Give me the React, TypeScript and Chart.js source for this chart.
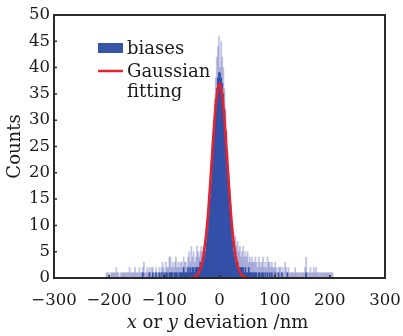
import React, { useEffect, useRef } from "react";
import { Chart, registerables } from "chart.js";

Chart.register(...registerables);

// Histogram bins: 2 nm wide, first bin starts at -210 nm
const BIN_START = -210;
const BIN_WIDTH = 2;

// light (individual fine-bin) counts, per 2 nm bin from -210 to 210
const spikeCounts = [
  0, 0, 1, 1, 1, 0, 1, 1, 1, 1,
  1, 2, 1, 1, 0, 1, 1, 1, 1, 1,
  1, 1, 1, 2, 1, 1, 1, 1, 2, 1,
  1, 1, 2, 1, 1, 2, 3, 1, 1, 2,
  1, 2, 1, 2, 2, 1, 1, 2, 1, 1,
  2, 1, 2, 3, 2, 1, 3, 2, 2, 4,
  4, 2, 3, 2, 3, 4, 2, 3, 2, 3,
  3, 2, 4, 3, 3, 2, 4, 5, 3, 6,
  4, 5, 3, 4, 6, 5, 4, 5, 6, 5,
  6, 7, 8, 10, 13, 16, 18, 22, 26, 30,
  34, 38, 42, 44, 46, 40, 45, 42, 40, 36,
  32, 28, 24, 20, 17, 14, 10, 8, 7, 8,
  6, 7, 5, 6, 4, 5, 6, 4, 5, 4,
  5, 3, 4, 3, 4, 3, 3, 4, 3, 2,
  4, 3, 2, 3, 4, 2, 3, 2, 4, 3,
  3, 2, 3, 2, 2, 3, 2, 1, 2, 2,
  2, 1, 2, 1, 3, 2, 1, 2, 1, 1,
  1, 1, 1, 2, 1, 1, 1, 1, 1, 1,
  1, 1, 2, 4, 1, 1, 1, 2, 1, 1,
  2, 1, 2, 1, 1, 1, 1, 1, 1, 1,
  1, 1, 1, 1, 1, 1, 1, 1, 0, 0,
];

// dense (solid) counts, same bins
const coreCounts = [
  0, 0, 0, 0, 0, 0, 0, 0, 0, 0,
  0, 0, 0, 0, 0, 0, 0, 0, 0, 0,
  0, 0, 0, 0, 0, 0, 0, 0, 0, 0,
  0, 0, 0, 0, 0, 1, 0, 0, 0, 0,
  0, 1, 0, 0, 1, 0, 0, 1, 0, 0,
  1, 0, 1, 0, 1, 0, 1, 1, 0, 1,
  1, 1, 1, 0, 1, 1, 1, 0, 1, 1,
  1, 1, 2, 1, 1, 1, 2, 1, 2, 1,
  2, 2, 1, 2, 2, 2, 2, 3, 2, 3,
  3, 4, 5, 7, 9, 12, 15, 18, 22, 26,
  30, 33, 36, 38, 39, 39, 38, 37, 35, 32,
  28, 24, 20, 16, 13, 10, 7, 5, 4, 3,
  3, 3, 2, 2, 2, 2, 2, 1, 2, 1,
  1, 2, 1, 1, 1, 1, 1, 1, 1, 0,
  1, 1, 0, 1, 1, 0, 1, 0, 1, 0,
  1, 0, 1, 0, 0, 1, 0, 0, 1, 0,
  0, 1, 0, 0, 0, 0, 1, 0, 0, 0,
  0, 0, 0, 0, 0, 0, 0, 0, 0, 0,
  0, 0, 0, 1, 0, 0, 0, 0, 0, 0,
  0, 0, 0, 0, 0, 0, 0, 0, 0, 0,
  0, 0, 0, 0, 0, 0, 0, 0, 0, 0,
];

// Gaussian fitting curve
const fitX = [-52, -48, -44, -40, -36, -32, -28, -24, -20, -16, -12, -8, -4, 0, 4, 8, 12, 16, 20, 24, 28, 32, 36, 40, 44, 48, 52];
const fitY = [0.04, 0.1, 0.27, 0.62, 1.36, 2.7, 5.0, 8.5, 13.3, 19.3, 25.6, 31.4, 35.5, 37, 35.5, 31.4, 25.6, 19.3, 13.3, 8.5, 5.0, 2.7, 1.36, 0.62, 0.27, 0.1, 0.04];

const xTicks = [-300, -200, -100, 0, 100, 200, 300];
const yTicks = [0, 5, 10, 15, 20, 25, 30, 35, 40, 45, 50];

const FONT = '"DejaVu Serif", "Liberation Serif", serif';
const BLUE = "#3554a5";
const CORE = "rgba(45, 75, 165, 0.9)";
const LAVENDER = "rgba(80, 88, 180, 0.36)";
const RED = "#e8212b";
const INK = "#1a1a1a";

const binCenters = spikeCounts.map((_, i) => BIN_START + BIN_WIDTH * i + BIN_WIDTH / 2);

const decorPlugin = {
  id: "decor",
  afterDatasetsDraw(chart: any) {
    const { ctx, chartArea } = chart;
    const { left, right, top, bottom } = chartArea;
    const xs = chart.scales.x;
    const ys = chart.scales.y;
    ctx.save();
    // inward ticks
    ctx.strokeStyle = "#2a2a2a";
    ctx.lineWidth = 1.5;
    ctx.beginPath();
    xTicks.forEach((v) => {
      const px = xs.getPixelForValue(v);
      ctx.moveTo(px, bottom);
      ctx.lineTo(px, bottom - 3);
    });
    yTicks.forEach((v) => {
      const py = ys.getPixelForValue(v);
      ctx.moveTo(left, py);
      ctx.lineTo(left + 3, py);
    });
    ctx.stroke();
    // frame
    ctx.lineWidth = 2;
    ctx.strokeStyle = "#2a2a2a";
    ctx.strokeRect(left, top, right - left, bottom - top);

    // legend
    const lx = left + 44;
    ctx.fillStyle = BLUE;
    ctx.fillRect(lx, top + 28, 25, 10);
    ctx.strokeStyle = RED;
    ctx.lineWidth = 2.5;
    ctx.beginPath();
    ctx.moveTo(lx, top + 56);
    ctx.lineTo(lx + 25, top + 56);
    ctx.stroke();
    ctx.fillStyle = INK;
    ctx.font = `18px ${FONT}`;
    ctx.textAlign = "left";
    ctx.textBaseline = "alphabetic";
    ctx.fillText("biases", lx + 29, top + 39);
    ctx.fillText("Gaussian", lx + 29, top + 62);
    ctx.fillText("fitting", lx + 29, top + 82);

    // y title
    ctx.save();
    ctx.translate(15, (top + bottom) / 2);
    ctx.rotate(-Math.PI / 2);
    ctx.textAlign = "center";
    ctx.textBaseline = "middle";
    ctx.font = `18px ${FONT}`;
    ctx.fillText("Counts", 0, 0);
    ctx.restore();

    // x title with italic x / y
    const parts: [string, boolean][] = [
      ["x", true],
      [" or ", false],
      ["y", true],
      [" deviation /nm", false],
    ];
    const fonts = (it: boolean) => (it ? `italic 18px ${FONT}` : `18px ${FONT}`);
    let total = 0;
    parts.forEach(([t, it]) => {
      ctx.font = fonts(it);
      total += ctx.measureText(t).width;
    });
    let cx = (left + right) / 2 - 2 - total / 2;
    const by = bottom + 50;
    ctx.textAlign = "left";
    ctx.textBaseline = "alphabetic";
    parts.forEach(([t, it]) => {
      ctx.font = fonts(it);
      ctx.fillText(t, cx, by);
      cx += ctx.measureText(t).width;
    });
    ctx.restore();
  },
};

export default function App() {
  const ref = useRef<HTMLCanvasElement | null>(null);

  useEffect(() => {
    document.body.style.margin = "0";
    if (!ref.current) return;
    const chart = new Chart(ref.current, {
      type: "bar",
      data: {
        datasets: [
          {
            type: "line",
            label: "Gaussian fitting",
            data: fitX.map((x, i) => ({ x, y: fitY[i] })),
            borderColor: RED,
            borderWidth: 2.5,
            pointRadius: 0,
            cubicInterpolationMode: "monotone",
            fill: false,
            order: 0,
          } as any,
          {
            type: "bar",
            label: "biases",
            data: binCenters.map((x, i) => ({ x, y: coreCounts[i] })),
            backgroundColor: CORE,
            borderWidth: 0,
            barPercentage: 1,
            categoryPercentage: 1,
            order: 1,
          } as any,
          {
            type: "bar",
            label: "biases (fine)",
            data: binCenters.map((x, i) => ({ x, y: spikeCounts[i] })),
            backgroundColor: LAVENDER,
            borderWidth: 0,
            barPercentage: 1,
            categoryPercentage: 1,
            order: 2,
          } as any,
        ],
      },
      options: {
        animation: false,
        responsive: false,
        maintainAspectRatio: false,
        layout: { padding: { left: 0, right: 18, top: 15, bottom: 0 } },
        plugins: { legend: { display: false }, tooltip: { enabled: false } },
        scales: {
          x: {
            type: "linear",
            stacked: true,
            offset: false,
            min: -300,
            max: 300,
            afterFit: (s: any) => {
              s.height = 58;
              s.paddingLeft = 0;
              s.paddingRight = 0;
            },
            afterBuildTicks: (s: any) => {
              s.ticks = xTicks.map((v) => ({ value: v }));
            },
            grid: { display: false, drawTicks: false, offset: false },
            border: { display: false },
            ticks: {
              padding: 13,
              color: INK,
              font: { family: FONT, size: 16.5 },
              maxRotation: 0,
              callback: (v: any) => (Number(v) < 0 ? "\u2212" + Math.abs(Number(v)) : String(v)),
            },
          },
          y: {
            type: "linear",
            stacked: false,
            min: 0,
            max: 50,
            afterFit: (s: any) => {
              s.width = 54;
              s.paddingTop = 0;
              s.paddingBottom = 0;
            },
            afterBuildTicks: (s: any) => {
              s.ticks = yTicks.map((v) => ({ value: v }));
            },
            grid: { display: false, drawTicks: false },
            border: { display: false },
            ticks: {
              padding: 4,
              color: INK,
              font: { family: FONT, size: 16.5 },
            },
          },
        },
      },
      plugins: [decorPlugin],
    });
    return () => chart.destroy();
  }, []);

  return (
    <div style={{ width: 403, height: 336 }}>
      <canvas ref={ref} width={403} height={336} style={{ display: "block" }} />
    </div>
  );
}
